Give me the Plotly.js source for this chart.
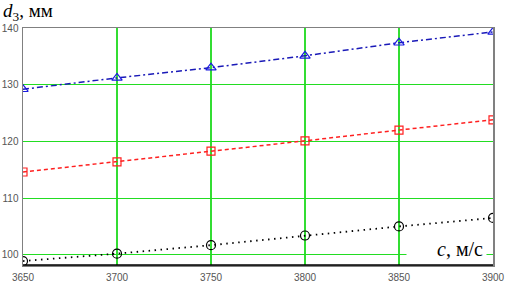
<!DOCTYPE html>
<html>
<head>
<meta charset="utf-8">
<script src="https://cdn.plot.ly/plotly-3.0.1.min.js"></script>
<style>html,body{margin:0;padding:0;background:#fff;}#chart{width:509px;height:287px;}</style>
</head>
<body>
<div id="chart"></div>
<script>
const speed = [3650, 3700, 3750, 3800, 3850, 3900];
const dTriangle = [129.2, 131.2, 133.0, 135.1, 137.4, 139.3];
const dSquare = [114.6, 116.4, 118.3, 120.1, 122.0, 123.8];
const dCircle = [98.9, 100.2, 101.7, 103.4, 105.0, 106.5];
const xTicks = [3650, 3700, 3750, 3800, 3850, 3900];
const yTicks = [100, 110, 120, 130, 140];

const W = 509, H = 287, L = 23, R = 16, T = 28, B = 22;
const pw = W - L - R, ph = H - T - B;
const px = v => (v - L) / pw;
const py = v => (H - B - v) / ph;

const traces = [
  {x: speed, y: dTriangle, mode: 'lines+markers', line: {color: '#1a1ab8', dash: '6px,3px,2px,3px', width: 1.5},
   marker: {symbol: 'triangle-up-open', size: 9, color: '#1a1ae0', line: {width: 1.2}}},
  {x: speed, y: dSquare, mode: 'lines+markers', line: {color: '#ff2020', dash: '4px,3px', width: 1.5},
   marker: {symbol: 'square-open', size: 8, color: '#ff2020', line: {width: 1.2}}},
  {x: speed, y: dCircle, mode: 'lines+markers', line: {color: '#000000', dash: '1.5px,4.5px', width: 1.8},
   marker: {symbol: 'circle-open', size: 9, color: '#000000', line: {width: 1.2}}}
];

const layout = {
  width: W, height: H,
  margin: {l: L, r: R, t: T, b: B, pad: 0},
  paper_bgcolor: '#fff', plot_bgcolor: '#fff',
  showlegend: false,
  xaxis: {range: [3650, 3900], tickvals: xTicks, ticktext: xTicks.map(String),
    showgrid: true, gridcolor: '#33dd33', gridwidth: 1.4, zeroline: false,
    showline: true, linecolor: '#808080', linewidth: 1.5, mirror: true,
    ticks: '', ticklabelstandoff: 2,
    tickfont: {family: 'Liberation Sans, Arial', size: 10, color: '#555'}},
  yaxis: {range: [98.2, 140], tickvals: yTicks, ticktext: yTicks.map(String),
    showgrid: true, gridcolor: '#22dd22', gridwidth: 1.2, zeroline: false,
    showline: true, linecolor: '#808080', linewidth: 1.5, mirror: true,
    ticks: '', ticklabelstandoff: 1,
    tickfont: {family: 'Liberation Sans, Arial', size: 10, color: '#555'}},
  shapes: [
    {type: 'rect', xref: 'paper', yref: 'paper', x0: px(407), x1: px(486), y0: py(259), y1: py(238),
     fillcolor: '#ffffff', opacity: 1, line: {color: '#ffffff', width: 1}, layer: 'above'},
    {type: 'line', xref: 'paper', yref: 'paper', x0: 0, x1: 1, y0: 0, y1: 0,
     line: {color: '#000', width: 1.5}}
  ],
  annotations: [
    {xref: 'paper', yref: 'paper', x: px(1), y: py(12), xanchor: 'left', yanchor: 'middle',
     text: '<i>d</i><sub>3</sub>, мм', showarrow: false,
     font: {family: 'Liberation Serif, Times New Roman', size: 19, color: '#000'}},
    {xref: 'paper', yref: 'paper', x: px(485), y: py(249), xanchor: 'right', yanchor: 'middle',
     text: '<i>c</i>, м/с', showarrow: false,
     font: {family: 'Liberation Serif, Times New Roman', size: 20, color: '#000'}}
  ]
};

Plotly.newPlot('chart', traces, layout, {displayModeBar: false, staticPlot: true});
</script>
</body>
</html>
